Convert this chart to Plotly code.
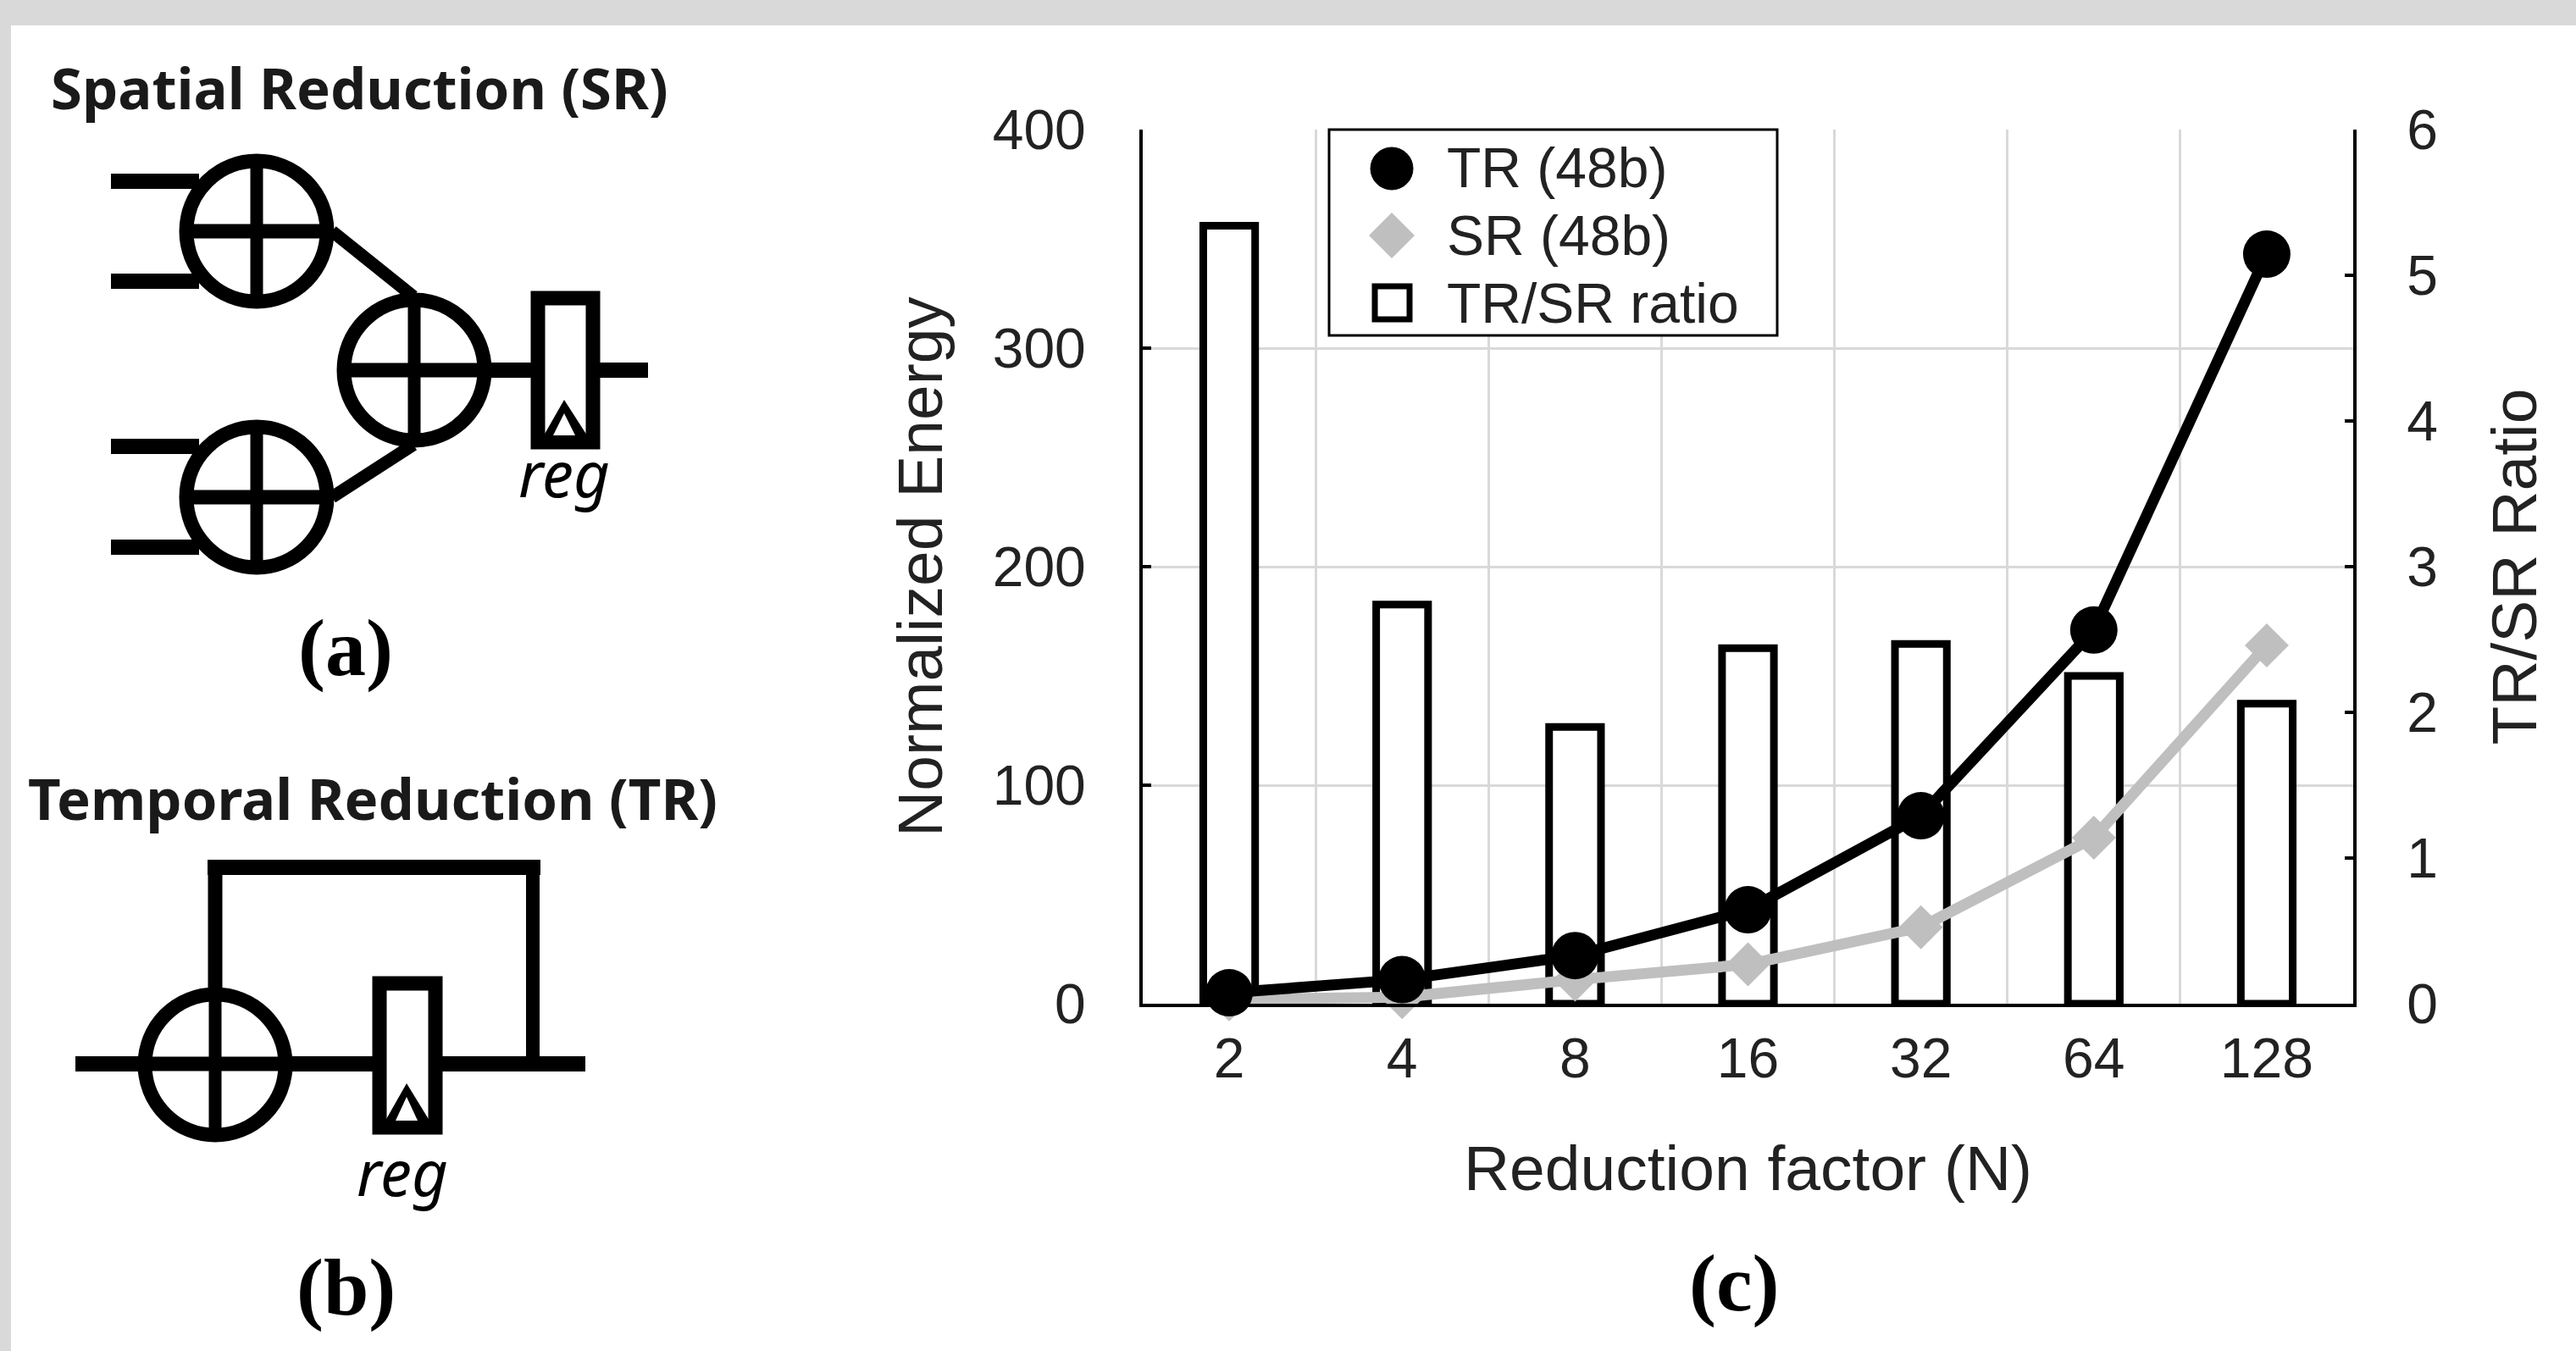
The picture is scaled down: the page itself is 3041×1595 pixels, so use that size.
import plotly.graph_objects as go

W, H = 3041, 1595

categories = ["2", "4", "8", "16", "32", "64", "128"]
tr_energy = [5, 11, 22, 43, 86, 171, 343]
sr_energy = [2, 3, 11, 18, 35, 76, 164]
tr_sr_ratio = [5.34, 2.74, 1.90, 2.44, 2.47, 2.25, 2.06]
energy_ticks = [0, 100, 200, 300, 400]
ratio_ticks = [0, 1, 2, 3, 4, 5, 6]
legend_labels = ["TR (48b)", "SR (48b)", "TR/SR ratio"]

LEFT, RIGHT, TOP, BOTTOM = 1349, 2778, 153, 1185
GREY = "#bfbfbf"
GRID = "#d9d9d9"
SANS = "Liberation Sans"
HEAD = "Noto Sans"


def px(x):
    return x / W


def py(y):
    return 1 - y / H


shapes = []


def rect(x0, y0, x1, y1, fill="white", line=None, w=0):
    shapes.append(dict(type="rect", xref="paper", yref="paper", x0=px(x0), x1=px(x1),
                       y0=py(y0), y1=py(y1), fillcolor=fill, layer="above",
                       line=dict(color=line or "rgba(0,0,0,0)", width=w)))


def seg(x0, y0, x1, y1, w=17):
    shapes.append(dict(type="line", xref="paper", yref="paper", x0=px(x0), x1=px(x1),
                       y0=py(y0), y1=py(y1), layer="above", line=dict(color="black", width=w)))


def circ(cx, cy, r=83, fill="white", line="black", w=17):
    shapes.append(dict(type="circle", xref="paper", yref="paper", x0=px(cx - r), x1=px(cx + r),
                       y0=py(cy - r), y1=py(cy + r), fillcolor=fill, layer="above",
                       line=dict(color=line, width=w)))


def tri(pts, fill):
    path = "M " + " L ".join(f"{px(x)},{py(y)}" for x, y in pts) + " Z"
    shapes.append(dict(type="path", xref="paper", yref="paper", path=path, fillcolor=fill,
                       layer="above", line=dict(width=0, color=fill)))


def adder(cx, cy):
    circ(cx, cy)
    seg(cx - 83, cy, cx + 83, cy, 17)
    seg(cx, cy - 83, cx, cy + 83, 15)


def register(x0, y0, x1, y1, cx, apex, base):
    rect(x0, y0, x1, y1, "white", "black", 17)
    tri([(cx, apex), (x0 + 7, base), (x1 - 7, base)], "black")
    tri([(cx, apex + 16), (cx - 13, base), (cx + 13, base)], "white")


# page frame
rect(0, 0, W, 30, "#d9d9d9")
rect(0, 0, 13, H, "#d9d9d9")

# panel (a)
seg(131, 214, 235, 214, 18)
seg(131, 332, 235, 332, 18)
seg(131, 527, 235, 527, 18)
seg(131, 646, 235, 646, 18)
seg(392, 273, 488, 350, 15)
seg(392, 587, 488, 525, 15)
seg(575, 437, 765, 437, 18)
adder(303, 273)
adder(303, 587)
adder(489, 437)
register(635, 352, 700, 522, 666, 472, 514)

# panel (b)
seg(89, 1256, 691, 1256, 18)
seg(245, 1024, 638, 1024, 18)
seg(254, 1015, 254, 1180, 17)
seg(629, 1015, 629, 1256, 16)
circ(254, 1257)
seg(254, 1175, 254, 1340, 15)
seg(171, 1256, 337, 1256, 17)
register(448, 1161, 514, 1331, 480, 1279, 1323)

# custom legend
LX0, LX1, LY0, LY1 = 1569, 2098, 153, 396
rect(LX0, LY0, LX1, LY1, "white", "black", 3)
circ(1643, 199, r=25, fill="black", line="black", w=1)
shapes.append(dict(type="path", xref="paper", yref="paper", layer="above",
                   path=f"M {px(1616)},{py(278)} L {px(1643)},{py(251)} L {px(1670)},{py(278)} L {px(1643)},{py(305)} Z",
                   fillcolor=GREY, line=dict(width=0, color=GREY)))
rect(1623, 338, 1664, 377, "white", "black", 7)

annotations = []


def label(x, y, text, size, family=SANS, color="black"):
    annotations.append(dict(xref="paper", yref="paper", x=px(x), y=py(y), text=text, showarrow=False,
                            xanchor="center", yanchor="middle",
                            font=dict(size=size, family=family, color=color)))


label(424, 103, "<b>Spatial Reduction (SR)</b>", 67, HEAD, "#1a1a1a")
label(440, 942, "<b>Temporal Reduction (TR)</b>", 67, HEAD, "#1a1a1a")
label(666, 558, "<i>reg</i>", 74, HEAD)
label(475, 1383, "<i>reg</i>", 74, HEAD)
label(408, 764, "<b>(a)</b>", 96, "Liberation Serif")
label(408, 1519, "<b>(b)</b>", 96, "Liberation Serif")
label(2047, 1514, "<b>(c)</b>", 96, "Liberation Serif")

for txt, yy in zip(legend_labels, [198, 278, 358]):
    annotations.append(dict(xref="paper", yref="paper", x=px(1706), y=py(yy), text=txt, showarrow=False,
                            xanchor="left", yanchor="middle",
                            font=dict(size=66, family=SANS, color="#222222")))

fig = go.Figure()
fig.add_trace(go.Bar(x=categories, y=tr_sr_ratio, yaxis="y", width=0.3, name=legend_labels[2],
                     marker=dict(color="white", line=dict(color="black", width=9))))
fig.add_trace(go.Scatter(x=categories, y=sr_energy, yaxis="y2", mode="lines+markers", name=legend_labels[1],
                         cliponaxis=False, line=dict(color=GREY, width=13),
                         marker=dict(symbol="diamond", size=40, color=GREY)))
fig.add_trace(go.Scatter(x=categories, y=tr_energy, yaxis="y2", mode="lines+markers", name=legend_labels[0],
                         cliponaxis=False, line=dict(color="black", width=13),
                         marker=dict(symbol="circle", size=56, color="black")))

tickfont = dict(size=66, family=SANS, color="#222222")
titlefont = dict(size=75, family=SANS, color="#222222")
fig.update_layout(
    template="none",
    width=W, height=H, showlegend=False, autosize=False,
    margin=dict(l=0, r=0, t=0, b=0, pad=0),
    paper_bgcolor="white", plot_bgcolor="white",
    shapes=shapes, annotations=annotations,
    xaxis=dict(type="category", categoryorder="array", categoryarray=categories, automargin=False,
               domain=[LEFT / W, RIGHT / W], range=[-0.5, 6.5], tickson="boundaries",
               showgrid=True, gridcolor=GRID, gridwidth=3, ticks="", showline=True,
               linecolor="black", linewidth=4, tickfont=tickfont, ticklabelstandoff=4,
               title=dict(text="Reduction factor (N)", font=titlefont, standoff=68)),
    yaxis=dict(domain=[1 - BOTTOM / H, 1 - TOP / H], range=[0, 6], side="right", tickvals=ratio_ticks,
               automargin=False, showgrid=False, zeroline=False, showline=True, linecolor="black", linewidth=4,
               ticks="inside", ticklen=10, tickwidth=4, tickcolor="black", tickfont=tickfont,
               ticklabelstandoff=46,
               title=dict(text="TR/SR Ratio", font=titlefont, standoff=66)),
    yaxis2=dict(overlaying="y", range=[0, 400], side="left", tickvals=energy_ticks, showgrid=True,
                automargin=False, gridcolor=GRID, gridwidth=3, zeroline=False, showline=True, linecolor="black",
                linewidth=4, ticks="inside", ticklen=10, tickwidth=4, tickcolor="black", tickfont=tickfont,
                ticklabelstandoff=50,
                title=dict(text="Normalized Energy", font=titlefont, standoff=35)),
)

fig.write_html("out.html", config=dict(displayModeBar=False),
               post_script="document.body.style.margin='0';document.body.style.overflow='hidden';")
